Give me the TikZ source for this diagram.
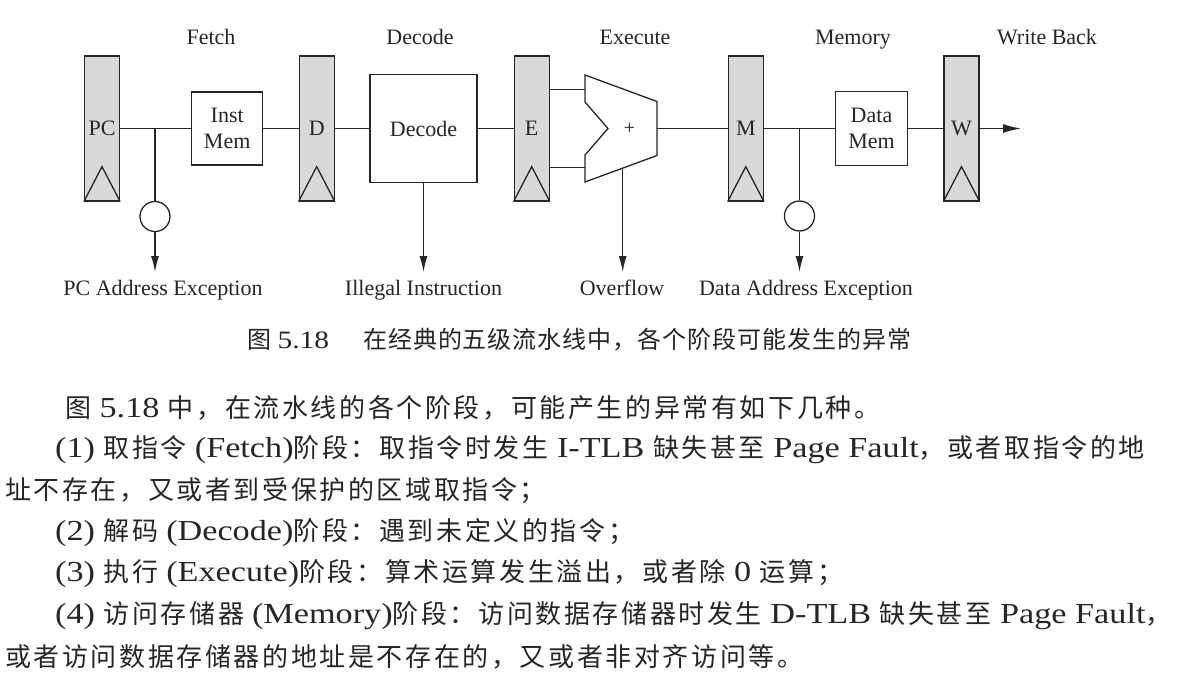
\documentclass[tikz,border=0pt]{standalone}
\usepackage{fontspec}
\setmainfont{Liberation Serif}
\newfontfamily\cjk[LetterSpace=10]{Noto Sans CJK SC}
\newfontfamily\cjkcap[LetterSpace=4]{Noto Sans CJK SC}
\newfontfamily\latw[FakeStretch=1.18]{Liberation Serif}
\usetikzlibrary{arrows.meta}
\newcommand\lat[1]{{\latw\fontsize{29}{29}\selectfont #1}}
\newcommand\latc[1]{{\latw\fontsize{25}{25}\selectfont #1}}
\begin{document}
\begin{tikzpicture}[x=1pt,y=-1pt,
  reg/.style={draw=black!85, fill=black!15, minimum width=35pt, minimum height=145pt, inner sep=0pt, line width=1.3pt, font=\fontsize{22}{22}\selectfont, text=black!85},
  box/.style={draw=black!85, line width=1.3pt, inner sep=0pt, align=center, font=\fontsize{22}{26}\selectfont, text=black!85},
  wire/.style={draw=black!85, line width=1.3pt},
  arr/.style={draw=black!85, line width=1.3pt, -{Latex[length=16pt,width=8pt]}},
  stagelbl/.style={anchor=base, inner sep=0pt, font=\fontsize{22}{22}\selectfont, text=black!85},
  exclbl/.style={anchor=base, inner sep=0pt, font=\fontsize{22}{22}\selectfont, text=black!85},
  bubble/.style={draw=black!85, circle, minimum size=30pt, inner sep=0pt, line width=1.3pt},
  body/.style={anchor=west, inner sep=0pt, font=\fontsize{26}{26}\selectfont\cjk, text=black!85},
  captext/.style={anchor=west, inner sep=0pt, font=\fontsize{24}{24}\selectfont\cjkcap, text=black!85},
]
\useasboundingbox (0,0) rectangle (1200,686);
\fill[white] (0,0) rectangle (1200,686);

% stage titles
\node[stagelbl] (sF) at (211,44.5) {Fetch};
\node[stagelbl] (sD) at (420,44.5) {Decode};
\node[stagelbl] (sE) at (635,44.5) {Execute};
\node[stagelbl] (sM) at (853,44.5) {Memory};
\node[stagelbl] (sW) at (1047,44.5) {Write Back};

% pipeline registers
\node[reg] (PC) at (102,128.5) {PC};
\node[reg] (D)  at (316.7,128.5) {D};
\node[reg] (E)  at (531.7,128.5) {E};
\node[reg] (M)  at (745.8,128.5) {M};
\node[reg] (W)  at (961.5,128.5) {W};
\foreach \r in {PC,D,E,M,W}
  \draw[wire] (\r.south west) -- ([yshift=35pt]\r.south) -- (\r.south east);

% blocks
\node[box, minimum width=71pt, minimum height=73pt] (imem) at (227.2,128.5) {Inst\\Mem};
\node[box, minimum width=107pt, minimum height=108pt] (dec) at (423.5,128.5) {Decode};
\node[box, minimum width=72pt, minimum height=74pt] (dmem) at (871.5,128.5) {Data\\Mem};

% ALU
\draw[wire, fill=white] (585,75) -- (585,102) -- (608,128.5) -- (585,155) -- (585,182)
  -- (657,155.5) -- (657,101.5) -- cycle;
\node[inner sep=0pt, font=\fontsize{20}{20}\selectfont, text=black!85] (plus) at (629.5,128.5) {+};
\coordinate (ain1) at (585,89.3);
\coordinate (ain2) at (585,167.7);
\coordinate (aout) at (657,128.5);
\coordinate (aovf) at (622.7,168.3);

% branch points and tips
\coordinate (b1) at (155,128.5);
\coordinate (b2) at (799.5,128.5);
\node[bubble] (c1) at (155,216.5) {};
\node[bubble] (c2) at (799.5,216) {};
\coordinate (t1) at (155,272);
\coordinate (t2) at (423.5,272);
\coordinate (t3) at (622.7,272);
\coordinate (t4) at (799.5,272);
\coordinate (wout) at (1021,128.5);

% wires
\draw[wire] (PC.east) -- (imem.west);
\draw[wire] (b1) -- (c1.north);
\draw[arr] (c1.south) -- (t1);
\draw[wire] (imem.east) -- (D.west);
\draw[wire] (D.east) -- (dec.west);
\draw[arr] (dec.south) -- (t2);
\draw[wire] (dec.east) -- (E.west);
\draw[wire] (E.east |- ain1) -- (ain1);
\draw[wire] (E.east |- ain2) -- (ain2);
\draw[arr] (aovf) -- (t3);
\draw[wire] (aout) -- (M.west);
\draw[wire] (M.east) -- (dmem.west);
\draw[wire] (b2) -- (c2.north);
\draw[arr] (c2.south) -- (t4);
\draw[wire] (dmem.east) -- (W.west);
\draw[draw=black!85, line width=1.3pt, -{Latex[length=18pt,width=9pt]}] (W.east) -- (wout);

% exception labels
\node[exclbl] (l1) at (163,295) {PC Address Exception};
\node[exclbl] (l2) at (423.5,295) {Illegal Instruction};
\node[exclbl] (l3) at (622,295) {Overflow};
\node[exclbl] (l4) at (806,295) {Data Address Exception};

% caption
\node[captext] (caption) at (247,340) {图 \latc{5.18}\hspace{34pt}在经典的五级流水线中，各个阶段可能发生的异常};

% body text
\node[body] (p0) at (65,408) {图 \lat{5.18} 中，在流水线的各个阶段，可能产生的异常有如下几种。};
\node[body] (p1) at (55,449.5) {\lat{(1)\ }取指令\lat{\hspace{8pt}(Fetch)}阶段：取指令时发生\lat{ I-TLB }缺失甚至\lat{ Page Fault}，或者取指令的地};
\node[body] (p1b) at (5,490.5) {址不存在，又或者到受保护的区域取指令；};
\node[body] (p2) at (55,532.5) {\lat{(2)\ }解码\lat{\hspace{8pt}(Decode)}阶段：遇到未定义的指令；};
\node[body] (p3) at (55,574) {\lat{(3)\ }执行\lat{\hspace{8pt}(Execute)}阶段：算术运算发生溢出，或者除\lat{ 0 }运算；};
\node[body] (p4) at (55,615.5) {\lat{(4)\ }访问存储器\lat{\hspace{8pt}(Memory)}阶段：访问数据存储器时发生\lat{ D-TLB }缺失甚至\lat{ Page Fault}，};
\node[body] (p4b) at (5,657) {或者访问数据存储器的地址是不存在的，又或者非对齐访问等。};
\end{tikzpicture}
\end{document}
